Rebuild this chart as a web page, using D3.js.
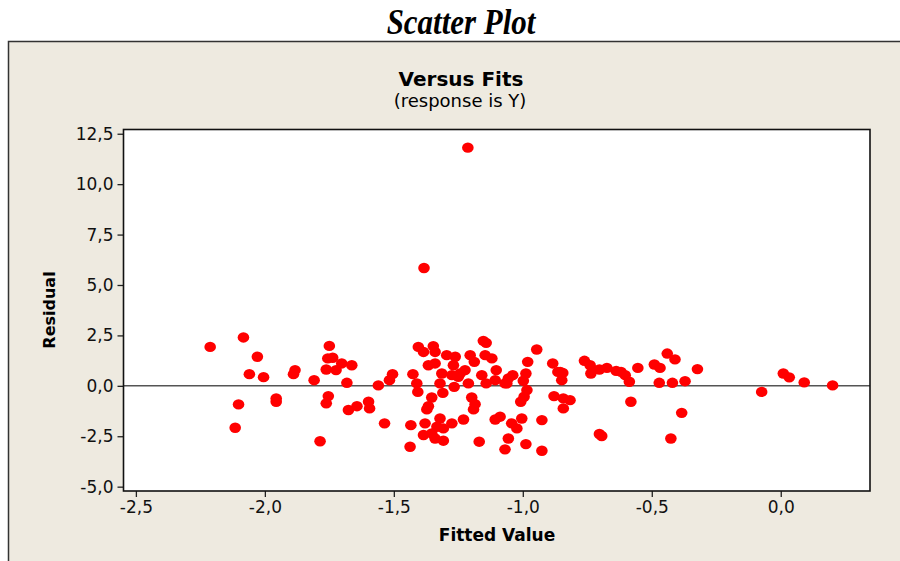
<!DOCTYPE html>
<html>
<head>
<meta charset="utf-8">
<script src="https://cdn.jsdelivr.net/npm/d3@7"></script>
<style>
body { margin: 0; background: #fff; }
</style>
</head>
<body>
<div id="chart"></div>
<script>
// fitted values (x) and residuals (y)
var fits = [
  -2.212, -2.083, -2.029, -2.060, -2.005, -2.102, -2.115, -1.956, -1.956, -1.889,
  -1.883, -1.809, -1.786, -1.750, -1.756, -1.737, -1.762, -1.724, -1.702, -1.663,
  -1.682, -1.754, -1.762, -1.676, -1.643, -1.598, -1.594, -1.560, -1.517, -1.505,
  -1.536, -1.426, -1.411, -1.407, -1.434, -1.437, -1.405, -1.385, -1.347, -1.340,
  -1.366, -1.340, -1.314, -1.321, -1.310, -1.353, -1.366, -1.372, -1.379, -1.321,
  -1.333, -1.308, -1.275, -1.385, -1.353, -1.340, -1.308, -1.295, -1.262, -1.269,
  -1.275, -1.243, -1.224, -1.266, -1.211, -1.204, -1.188, -1.153, -1.142, -1.146,
  -1.120, -1.159, -1.142, -1.103, -1.198, -1.185, -1.191, -1.230, -1.169, -1.107,
  -1.088, -1.107, -1.069, -1.056, -1.039, -1.043, -1.023, -1.004, -1.056, -1.069,
  -0.988, -0.926, -0.926, -0.998, -0.988, -0.981, -0.984, -0.995, -1.008, -0.946,
  -0.884, -0.864, -0.879, -0.855, -0.845, -0.849, -0.843, -0.817, -0.843, -0.761,
  -0.739, -0.736, -0.703, -0.674, -0.638, -0.619, -0.603, -0.587, -0.554, -0.581,
  -0.703, -0.694, -0.490, -0.468, -0.471, -0.440, -0.410, -0.420, -0.371, -0.384,
  -0.426, -0.323, -0.074, 0.010, 0.033, 0.091, 0.201, -1.213, -1.383, -1.250,
  -1.062
];
var residuals = [
  1.93, 2.40, 1.44, 0.58, 0.43, -0.92, -2.08, -0.63, -0.79, 0.58,
  0.78, 0.28, -2.75, 1.98, 1.36, 1.39, 0.81, 0.78, 1.11, 1.02,
  0.15, -0.51, -0.87, -1.20, -1.01, -0.79, -1.12, 0.02, 0.28, 0.58,
  -1.86, 0.58, 0.12, -0.30, -1.95, -3.02, 1.93, 1.68, 1.97, 1.68,
  1.02, 1.11, 0.61, 0.12, -0.35, -0.58, -1.01, -1.17, -1.86, -1.62,
  -2.03, -2.11, -1.86, -2.44, -2.36, -2.61, -2.72, 1.52, 1.44, 1.02,
  0.53, 0.61, 0.78, -0.05, 0.12, 1.52, 1.19, 2.23, 2.13, 1.52,
  1.36, 0.53, 0.12, 0.78, -0.58, -0.91, -1.17, -1.67, -2.77, -1.67,
  -1.53, 0.28, 0.12, 0.37, 0.53, -1.86, -2.11, -1.62, -2.61, -3.15,
  -2.89, -3.22, -1.70, 0.25, 0.61, 1.19, -0.21, -0.54, -0.79, 1.80,
  1.11, 0.69, -0.51, 0.69, 0.64, 0.28, -0.62, -0.71, -1.12, 1.24,
  1.02, 0.61, 0.81, 0.89, 0.74, 0.69, 0.53, 0.20, 0.89, -0.79,
  -2.39, -2.49, 1.06, 0.89, 0.15, 1.60, 1.31, 0.15, 0.23, -1.34,
  -2.61, 0.83, -0.30, 0.61, 0.42, 0.17, 0.02, 11.81, 5.84, 0.45,
  0.12
];
var xTicks = [-2.5, -2.0, -1.5, -1.0, -0.5, 0.0];
var yTicks = [-5.0, -2.5, 0.0, 2.5, 5.0, 7.5, 10.0, 12.5];

var fmt = d3.formatLocale({
  decimal: ',', thousands: '.', grouping: [3], currency: ['', ''], minus: '-'
}).format('.1f');

function Chart(container) {
  this.container = container;
  this.width = 900;
  this.height = 561;
  this.plot = { left: 123.5, top: 129.5, right: 870, bottom: 491 };
  this.svg = this.create();
  this.x = d3.scaleLinear().domain([-2.548, 0.346]).range([this.plot.left, this.plot.right]);
  this.y = d3.scaleLinear().domain([-5.215, 12.71]).range([this.plot.bottom, this.plot.top]);
  this.drawPanel();
  this.drawTitles();
  this.drawAxes();
  this.drawPoints();
}

Chart.prototype.create = function() {
  return d3.select(this.container).append('svg')
    .attr('width', this.width)
    .attr('height', this.height)
    .style('display', 'block');
};

Chart.prototype.drawPanel = function() {
  this.svg.append('rect')
    .attr('x', 8.5).attr('y', 41.5)
    .attr('width', 920).attr('height', 540)
    .attr('fill', '#eeeae0')
    .attr('stroke', '#333').attr('stroke-width', 1.5);
  this.svg.append('rect')
    .attr('class', 'plot-bg')
    .attr('x', this.plot.left).attr('y', this.plot.top)
    .attr('width', this.plot.right - this.plot.left)
    .attr('height', this.plot.bottom - this.plot.top)
    .attr('fill', '#fff');
};

Chart.prototype.drawTitles = function() {
  this.svg.append('text')
    .attr('transform', 'translate(461,34) scale(0.86,1)')
    .attr('text-anchor', 'middle')
    .style('font-family', '"Liberation Serif", "Times New Roman", serif')
    .style('font-size', '36px')
    .style('font-weight', 'bold')
    .style('font-style', 'italic')
    .text('Scatter Plot');
  this.svg.append('text')
    .attr('x', 461).attr('y', 86)
    .attr('text-anchor', 'middle')
    .style('font-family', '"DejaVu Sans", sans-serif')
    .style('font-size', '20px')
    .style('font-weight', 'bold')
    .text('Versus Fits');
  this.svg.append('text')
    .attr('x', 460).attr('y', 107)
    .attr('text-anchor', 'middle')
    .style('font-family', '"DejaVu Sans", sans-serif')
    .style('font-size', '18px')
    .text('(response is Y)');
};

Chart.prototype.drawAxes = function() {
  var font = '"DejaVu Sans", sans-serif';
  var xAxis = this.svg.append('g')
    .attr('transform', 'translate(0,' + this.plot.bottom + ')')
    .call(d3.axisBottom(this.x).tickValues(xTicks).tickFormat(fmt).tickSize(6).tickPadding(4));
  var yAxis = this.svg.append('g')
    .attr('transform', 'translate(' + this.plot.left + ',0)')
    .call(d3.axisLeft(this.y).tickValues(yTicks).tickFormat(fmt).tickSize(6).tickPadding(4));
  [xAxis, yAxis].forEach(function(a) {
    a.select('.domain').remove();
    a.selectAll('line').attr('stroke', '#222').attr('stroke-width', 1.3);
    a.selectAll('text')
      .attr('fill', '#111')
      .style('font-family', font)
      .style('font-size', '17px');
  });

  this.svg.append('text')
    .attr('x', 497).attr('y', 541)
    .attr('text-anchor', 'middle')
    .style('font-family', font)
    .style('font-size', '17px')
    .style('font-weight', 'bold')
    .text('Fitted Value');
  this.svg.append('text')
    .attr('transform', 'translate(55,310) rotate(-90)')
    .attr('text-anchor', 'middle')
    .style('font-family', font)
    .style('font-size', '16px')
    .style('font-weight', 'bold')
    .text('Residual');
};

Chart.prototype.drawPoints = function() {
  var x = this.x, y = this.y;
  this.svg.append('line')
    .attr('x1', this.plot.left).attr('x2', this.plot.right)
    .attr('y1', y(0)).attr('y2', y(0))
    .attr('stroke', '#555').attr('stroke-width', 1.5);

  var data = fits.map(function(f, i) { return { fit: f, res: residuals[i] }; });
  this.svg.append('g').attr('class', 'points')
    .selectAll('ellipse')
    .data(data)
    .enter().append('ellipse')
    .attr('cx', function(d) { return x(d.fit); })
    .attr('cy', function(d) { return y(d.res); })
    .attr('rx', 5.8)
    .attr('ry', 5.2)
    .attr('fill', '#ff0000');

  this.svg.append('rect')
    .attr('x', this.plot.left).attr('y', this.plot.top)
    .attr('width', this.plot.right - this.plot.left)
    .attr('height', this.plot.bottom - this.plot.top)
    .attr('fill', 'none')
    .attr('stroke', '#111').attr('stroke-width', 1.6);
};

new Chart(document.getElementById('chart'));
</script>
</body>
</html>
